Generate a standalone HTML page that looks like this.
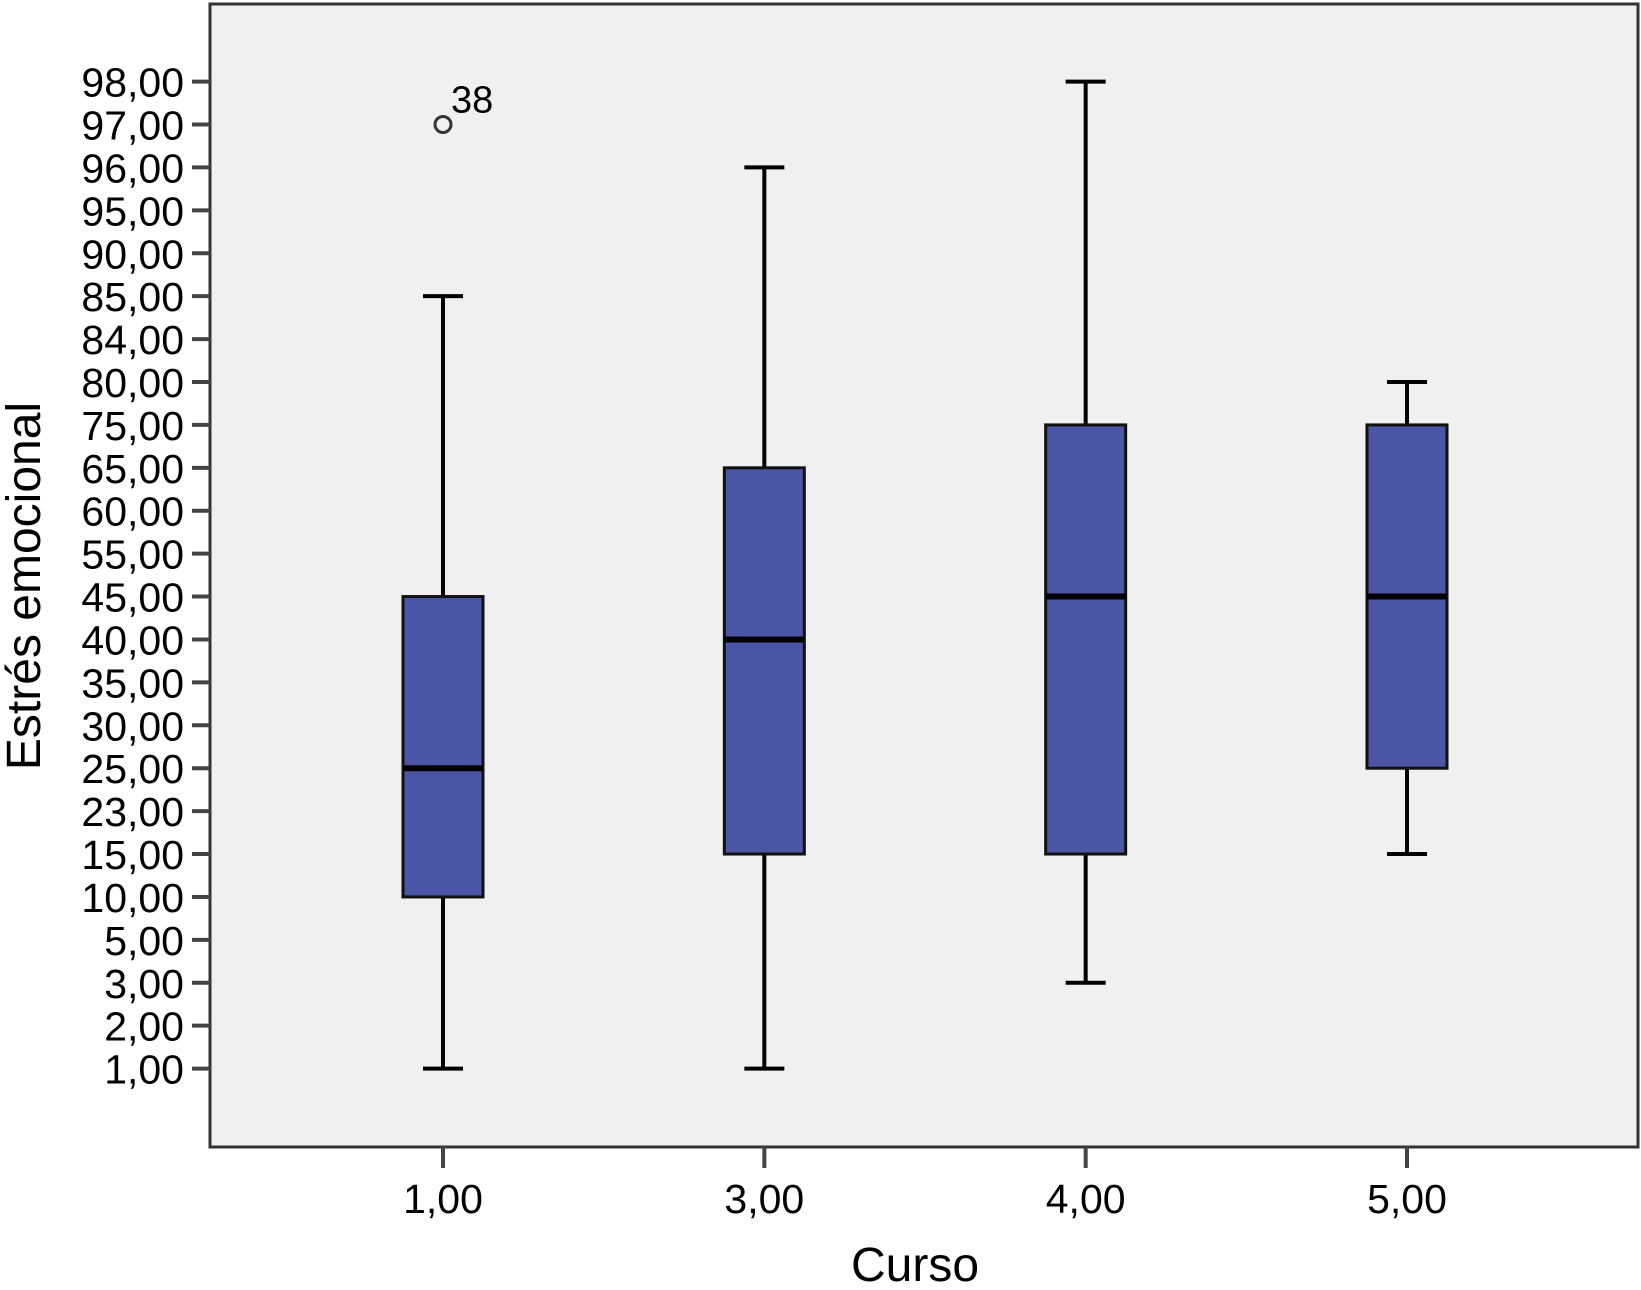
<!DOCTYPE html>
<html><head><meta charset="utf-8"><style>
body{margin:0;background:#fff;}
svg{display:block;font-family:"Liberation Sans",Arial,sans-serif;}
</style></head><body>
<svg id="chart" width="1641" height="1290">
<rect x="210" y="4" width="1428" height="1143" fill="#f0f0f0" stroke="#333" stroke-width="3"/>
<g id="yaxis"></g>
<g id="xaxis"></g>
<g id="boxes"></g>
<text x="40" y="586" font-size="48" text-anchor="middle" transform="rotate(-90 40 586)">Estrés emocional</text>
<text x="915" y="1281" font-size="48" text-anchor="middle">Curso</text>
</svg>
<script>
const yLevels=[1,2,3,5,10,15,23,25,30,35,40,45,55,60,65,75,80,84,85,90,95,96,97,98];
const categories=["1,00","3,00","4,00","5,00"];
const mins=[1,1,3,15];
const q1s=[10,15,15,25];
const medians=[25,40,45,45];
const q3s=[45,65,75,75];
const maxs=[85,96,98,80];
const outlierCat=[0];
const outlierVal=[97];
const outlierLabel=["38"];
const NS="http://www.w3.org/2000/svg";
function y(v){const i=yLevels.indexOf(v);return 1068.6-i*(1068.6-81.6)/(yLevels.length-1);}
function x(i){return 443+i*(1407-443)/(categories.length-1);}
function mk(tag,attrs,parent){const e=document.createElementNS(NS,tag);for(const k in attrs)e.setAttribute(k,attrs[k]);parent.appendChild(e);return e;}
const ya=document.getElementById('yaxis'),xa=document.getElementById('xaxis'),bx=document.getElementById('boxes');
yLevels.forEach(v=>{
 const t=mk('line',{x1:192,x2:210,y1:y(v),y2:y(v),stroke:'#444','stroke-width':4},ya);
 
 
 const l=mk('text',{x:184,y:y(v)+15,'font-size':41,'text-anchor':'end'},ya);
 l.textContent=v.toFixed(2).replace('.',',');
 
 
});
categories.forEach((c,i)=>{
 const t=mk('line',{x1:x(i),x2:x(i),y1:1147,y2:1168,stroke:'#444','stroke-width':4},xa);
 
 
 const l=mk('text',{x:x(i),y:1213,'font-size':41,'text-anchor':'middle'},xa);
 l.textContent=c;
 
 
 const g=mk('g',{},bx);
 
 
 const cx=x(i),hw=40,cw=20;
 mk('line',{x1:cx,x2:cx,y1:y(maxs[i]),y2:y(q3s[i]),stroke:'#000','stroke-width':4},g);
 mk('line',{x1:cx,x2:cx,y1:y(q1s[i]),y2:y(mins[i]),stroke:'#000','stroke-width':4},g);
 mk('line',{x1:cx-cw,x2:cx+cw,y1:y(maxs[i]),y2:y(maxs[i]),stroke:'#000','stroke-width':4},g);
 mk('line',{x1:cx-cw,x2:cx+cw,y1:y(mins[i]),y2:y(mins[i]),stroke:'#000','stroke-width':4},g);
 mk('rect',{x:cx-hw,y:y(q3s[i]),width:2*hw,height:y(q1s[i])-y(q3s[i]),fill:'#4b55a6',stroke:'#111','stroke-width':3},g);
 mk('line',{x1:cx-hw,x2:cx+hw,y1:y(medians[i]),y2:y(medians[i]),stroke:'#000','stroke-width':6},g);
});
outlierCat.forEach((ci,k)=>{
 const c=mk('circle',{cx:x(ci),cy:y(outlierVal[k]),r:8,fill:'none',stroke:'#333','stroke-width':3},bx);
 
 
 const t=mk('text',{x:x(ci)+8,y:y(outlierVal[k])-12,'font-size':38},bx);
 t.textContent=outlierLabel[k];
 
 
});
</script>
</body></html>
